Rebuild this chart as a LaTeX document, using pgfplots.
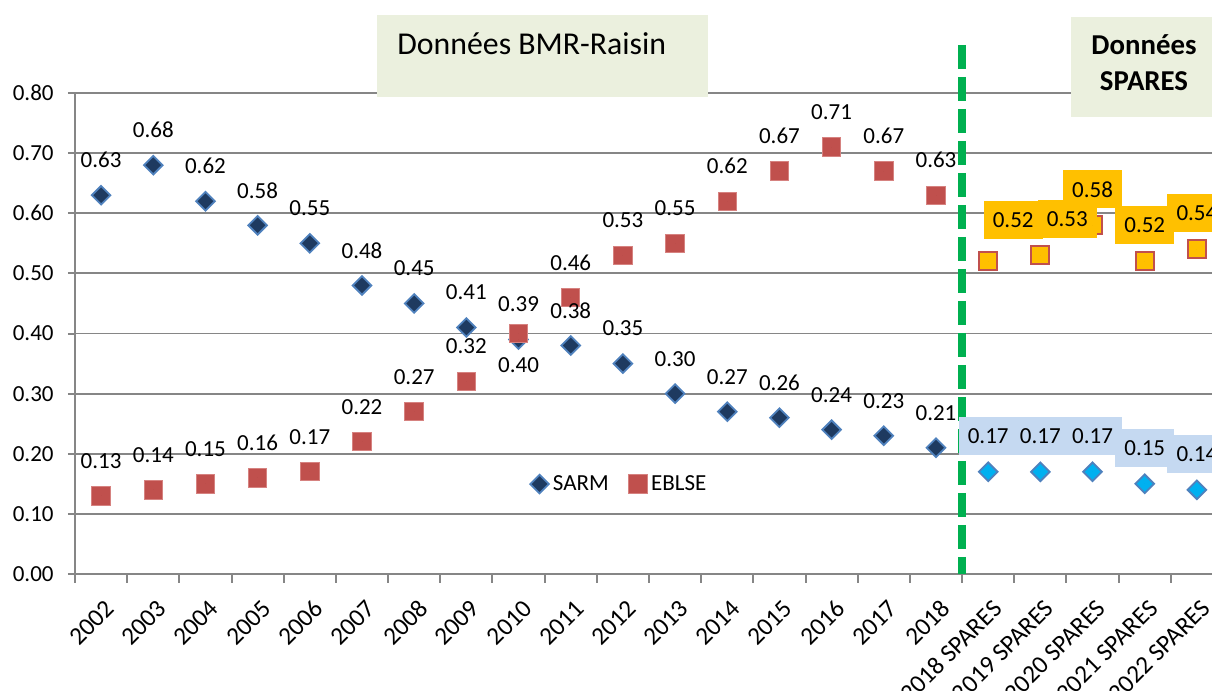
\documentclass[border=0pt]{standalone}
\usepackage{pgfplots}
\pgfplotsset{compat=1.18}
\usepackage{pgfplotstable}
\usepackage{fontspec}
\setmainfont{Carlito}
\definecolor{axgray}{RGB}{134,134,134}
\definecolor{sarmfill}{RGB}{30,58,96}
\definecolor{sarmedge}{RGB}{79,129,189}
\definecolor{eblsefill}{RGB}{192,80,77}
\definecolor{eblseedge}{RGB}{214,130,128}
\definecolor{sparesblue}{RGB}{0,176,240}
\definecolor{sparesorange}{RGB}{255,192,0}
\definecolor{lblblue}{RGB}{197,217,241}
\definecolor{boxfill}{RGB}{235,240,222}
\definecolor{dgreen}{RGB}{0,176,80}
\newcommand\lblfont{\fontsize{11.5}{13.8}\selectfont}
\newcommand\xlblfont{\fontsize{12.6}{15}\selectfont}

\pgfplotstableread{
x y dy
0 0.63 17.5
1 0.68 17.5
2 0.62 17.5
3 0.58 17.5
4 0.55 17.5
5 0.48 17.5
6 0.45 17.5
7 0.41 17.5
8 0.39 17.5
9 0.38 17.5
10 0.35 17.5
11 0.30 17.5
12 0.27 17.5
13 0.26 17.5
14 0.24 17.5
15 0.23 17.5
16 0.21 17.5
}\sarmtab

\pgfplotstableread{
x y dy
0 0.13 17.5
1 0.14 17.5
2 0.15 17.5
3 0.16 17.5
4 0.17 17.5
5 0.22 17.5
6 0.27 17.5
7 0.32 17.5
8 0.40 -16
9 0.46 17.5
10 0.53 17.5
11 0.55 17.5
12 0.62 17.5
13 0.67 17.5
14 0.71 17.5
15 0.67 17.5
16 0.63 17.5
}\eblsetab

\pgfplotstableread{
x y dx dy
17 0.17 0 18
18 0.17 0 18
19 0.17 0 18
20 0.15 0 18
21 0.14 0 18
}\sarmsp

\pgfplotstableread{
x y dx dy
17 0.52 12.5 20.5
18 0.53 13.5 18
19 0.58 0 18
20 0.52 0 18
21 0.54 0 18
}\eblsesp

\begin{document}
\begin{tikzpicture}
\begin{axis}[
  at={(37.5pt,58.5pt)}, anchor=south west,
  scale only axis, width=574pt, height=240.5pt,
  xmin=-0.5, xmax=21.5, ymin=0, ymax=0.8,
  clip=false,
  axis x line*=bottom, axis y line*=left,
  axis line style={axgray, line width=1pt},
  tick align=outside,
  major tick length=3.5pt, minor tick length=4.5pt,
  tick style={axgray, line width=1pt},
  major x tick style={draw=none},
  xtick={0,...,21},
  minor xtick={-0.5,0.5,...,21.5},
  xticklabels={2002,2003,2004,2005,2006,2007,2008,2009,2010,2011,2012,2013,2014,2015,2016,2017,2018,2018 SPARES,2019 SPARES,2020 SPARES,2021 SPARES,2022 SPARES},
  x tick label style={font=\xlblfont, anchor=north east, inner sep=0pt, xshift=1.5pt, yshift=-8.5pt, rotate=45},
  ytick={0,0.1,0.2,0.3,0.4,0.5,0.6,0.7,0.8},
  y tick label style={font=\lblfont, anchor=east, inner sep=0pt, xshift=-7pt},
  yticklabel style={/pgf/number format/fixed, /pgf/number format/fixed zerofill, /pgf/number format/precision=2, /pgf/number format/assume math mode=true},
  ymajorgrids,
  major grid style={axgray, line width=0.9pt},
  legend style={at={(0.475,0.187)}, anchor=center, draw=none, fill=none, font=\lblfont, legend columns=2, /tikz/every even column/.append style={column sep=8pt}},
  legend cell align=left,
]
% markers
\addplot[only marks, mark=square*, mark size=3.3pt, mark options={rotate=45, fill=sarmfill, draw=sarmedge, line width=0.9pt}] table[x=x,y=y] {\sarmtab};
\addlegendentry{SARM}
\addplot[only marks, mark=square*, mark size=4.6pt, mark options={fill=eblsefill, draw=eblseedge, line width=0.5pt}] table[x=x,y=y] {\eblsetab};
\addlegendentry{EBLSE}
\addplot[forget plot, only marks, mark=square*, mark size=3.3pt, mark options={rotate=45, fill=sparesblue, draw=sarmedge, line width=0.9pt}] table[x=x,y=y] {\sarmsp};
\addplot[forget plot, only marks, mark=square*, mark size=4.5pt, mark options={fill=sparesorange, draw=eblsefill, line width=1pt}] table[x=x,y=y] {\eblsesp};
% labels
\addplot[forget plot, only marks, mark=*, mark size=0pt, mark options={draw=none, fill=none},
  point meta=y,
  visualization depends on={\thisrow{dy} \as \myDy},
  nodes near coords={\pgfmathprintnumber[fixed,fixed zerofill,precision=2,assume math mode=true]{\pgfplotspointmeta}},
  every node near coord/.append style={anchor=center, yshift=\myDy pt, font=\lblfont, text=black, inner sep=0pt}
] table[x=x,y=y] {\sarmtab};
\addplot[forget plot, only marks, mark=*, mark size=0pt, mark options={draw=none, fill=none},
  point meta=y,
  visualization depends on={\thisrow{dy} \as \myDy},
  nodes near coords={\pgfmathprintnumber[fixed,fixed zerofill,precision=2,assume math mode=true]{\pgfplotspointmeta}},
  every node near coord/.append style={anchor=center, yshift=\myDy pt, font=\lblfont, text=black, inner sep=0pt}
] table[x=x,y=y] {\eblsetab};
\addplot[forget plot, only marks, mark=*, mark size=0pt, mark options={draw=none, fill=none},
  point meta=y,
  visualization depends on={\thisrow{dy} \as \myDy},
  visualization depends on={\thisrow{dx} \as \myDx},
  nodes near coords={\pgfmathprintnumber[fixed,fixed zerofill,precision=2,assume math mode=true]{\pgfplotspointmeta}},
  every node near coord/.append style={anchor=center, xshift=\myDx pt, yshift=\myDy pt, font=\lblfont, text=black, inner sep=0pt, fill=lblblue, minimum width=29.5pt, minimum height=19pt}
] table[x=x,y=y] {\sarmsp};
\addplot[forget plot, only marks, mark=*, mark size=0pt, mark options={draw=none, fill=none},
  point meta=y,
  visualization depends on={\thisrow{dy} \as \myDy},
  visualization depends on={\thisrow{dx} \as \myDx},
  nodes near coords={\pgfmathprintnumber[fixed,fixed zerofill,precision=2,assume math mode=true]{\pgfplotspointmeta}},
  every node near coord/.append style={anchor=center, xshift=\myDx pt, yshift=\myDy pt, font=\lblfont, text=black, inner sep=0pt, fill=sparesorange, minimum width=29.5pt, minimum height=19pt}
] table[x=x,y=y] {\eblsesp};
% separator
\draw[dgreen, line width=4pt, dash pattern=on 12pt off 4pt] (axis cs:16.5,0.88) -- (axis cs:16.5,0);
\end{axis}
% title boxes
\fill[boxfill] (188.5pt,297pt) rectangle (354pt,338pt);
\node[anchor=base west, inner sep=0pt, font=\fontsize{15.9}{19}\selectfont] at (198.5pt,318pt) {Données BMR-Raisin};
\fill[boxfill] (535.5pt,287pt) rectangle (620pt,337pt);
\node[anchor=base, inner sep=0pt, font=\fontsize{14.4}{17}\selectfont\bfseries] at (572pt,318pt) {Données};
\node[anchor=base, inner sep=0pt, font=\fontsize{14.4}{17}\selectfont\bfseries] at (572pt,300pt) {SPARES};
\pgfresetboundingbox
\path[use as bounding box] (0pt,0pt) rectangle (606pt,345.5pt);
\end{tikzpicture}
\end{document}
